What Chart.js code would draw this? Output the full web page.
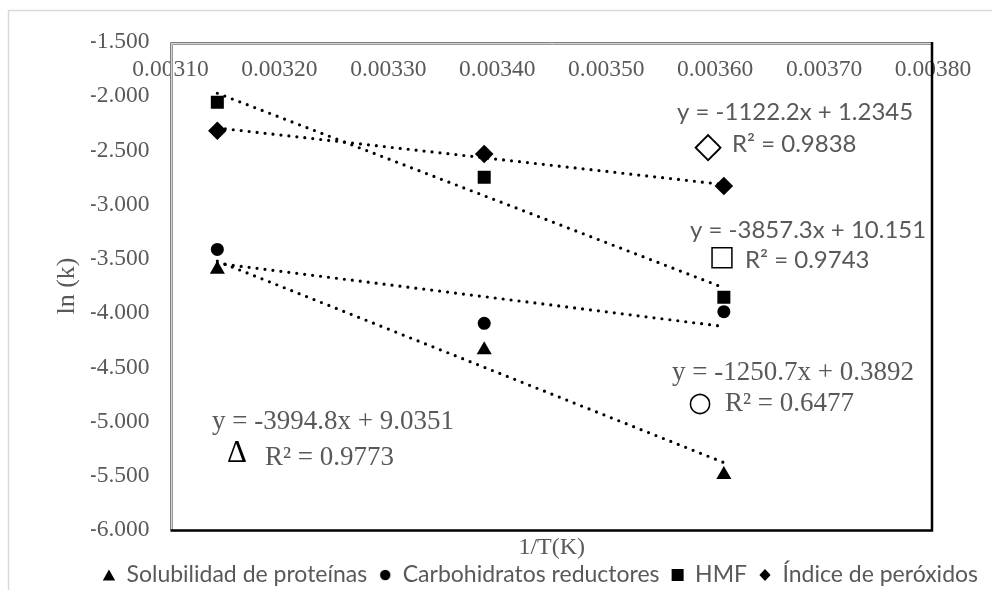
<!DOCTYPE html>
<html>
<head>
<meta charset="utf-8">
<script src="https://cdn.jsdelivr.net/npm/chart.js@4.4.1/dist/chart.umd.min.js"></script>
<style>
  html, body { margin: 0; padding: 0; background: #ffffff; }
  #wrap { width: 992px; height: 590px; position: relative; }
</style>
</head>
<body>
<div id="wrap"><canvas id="chart" width="992" height="590"></canvas></div>
<script>
// Arrhenius plot: ln(k) against 1/T for four quality indices
const seriesNames = ['Solubilidad de proteínas', 'Carbohidratos reductores', 'HMF', 'Índice de peróxidos'];
const invTemp = [0.003143, 0.003388, 0.003608];          // 1/T (K^-1)
const solubilidad = [-3.598, -4.340, -5.490];
const carbohidratos = [-3.413, -4.094, -3.987];
const hmf = [-2.056, -2.748, -3.854];
const peroxidos = [-2.318, -2.533, -2.828];

// linear fits (slope, intercept, R²) in series order
const slopes = [-3994.8, -1250.7, -3857.3, -1122.2];
const intercepts = [9.0351, 0.3892, 10.151, 1.2345];
const rSquared = [0.9773, 0.6477, 0.9743, 0.9838];
const fitSymbols = ['Δ', '○', '□', '◇'];

const xTicks = [0.0031, 0.0032, 0.0033, 0.0034, 0.0035, 0.0036, 0.0037, 0.0038];
const yTicks = [-1.5, -2.0, -2.5, -3.0, -3.5, -4.0, -4.5, -5.0, -5.5, -6.0];

const seriesValues = [solubilidad, carbohidratos, hmf, peroxidos];
const pointStyles = ['triangle', 'circle', 'rect', 'rectRot'];
const pointSizes = [8.7, 6.5, 9.2, 9.3];

// where each fit label sits, in px from the plot area's top-left corner
const fitLabelPlacement = [
  { eq: [41.5, 380], mark: [66.5, 412], r2: [94.5, 416], serif: true },
  { eq: [501.5, 331], mark: [529.5, 362], r2: [554.5, 362], serif: true },
  { eq: [519.5, 188], mark: [551.5, 216], r2: [574.5, 218], serif: false },
  { eq: [506.5, 70.5], mark: [537.5, 106], r2: [561.5, 102], serif: false }
];
const symbolFonts = [
  '31px "Liberation Serif"',
  'bold 27px "DejaVu Sans"',
  'bold 28px "DejaVu Sans"',
  'bold 36px "DejaVu Sans"'
];

const TEXT = '#595959';
const SERIF = '"Liberation Serif", "Times New Roman", serif';
const SANS = 'Lato, "Open Sans", sans-serif';

// small solid markers for the legend
function legendMark(style) {
  const c = document.createElement('canvas');
  c.width = 14; c.height = 14;
  const g = c.getContext('2d');
  g.fillStyle = '#000';
  g.beginPath();
  if (style === 'triangle') { g.moveTo(7, 1.5); g.lineTo(13.2, 12.5); g.lineTo(0.8, 12.5); }
  else if (style === 'circle') { g.arc(7, 7, 5.2, 0, Math.PI * 2); }
  else if (style === 'rect') { g.rect(1, 1, 12, 12); }
  else { g.moveTo(7, 1); g.lineTo(12.6, 7); g.lineTo(7, 13); g.lineTo(1.4, 7); }
  g.closePath();
  g.fill();
  return c;
}
const legendMarks = pointStyles.map(legendMark);

const scatterSets = seriesNames.map((name, i) => ({
  label: name,
  data: invTemp.map((x, j) => ({ x: x, y: seriesValues[i][j] })),
  pointStyle: pointStyles[i],
  pointRadius: pointSizes[i],
  pointHoverRadius: pointSizes[i],
  backgroundColor: '#000000',
  borderColor: '#000000',
  borderWidth: 0,
  showLine: false
}));

const first = invTemp[0];
const last = invTemp[invTemp.length - 1];
const trendSets = seriesNames.map((name, i) => ({
  label: name + ' (ajuste)',
  data: [first, last].map(x => ({ x: x, y: slopes[i] * x + intercepts[i] })),
  showLine: true,
  pointRadius: 0,
  borderColor: '#000000',
  borderWidth: 3.2,
  borderDash: [0, 8],
  borderCapStyle: 'round',
  fill: false
}));

// outer frame and plot border
const framePlugin = {
  id: 'frame',
  beforeDraw(chart) {
    const ctx = chart.ctx;
    ctx.save();
    ctx.fillStyle = '#ffffff';
    ctx.fillRect(0, 0, chart.width, chart.height);
    ctx.strokeStyle = '#d9d9d9';
    ctx.lineWidth = 1.5;
    ctx.beginPath();
    ctx.moveTo(8.5, chart.height + 2);
    ctx.lineTo(8.5, 10.5);
    ctx.lineTo(chart.width + 2, 10.5);
    ctx.stroke();
    ctx.restore();
  },
  beforeDatasetsDraw(chart) {
    const { left, right, top, bottom } = chart.chartArea;
    const ctx = chart.ctx;
    ctx.save();
    // top and left: thin grey double rule
    const rules = [[0.5, '#7f7f7f'], [1.5, '#d4d4d4'], [2.5, '#9a9a9a']];
    rules.forEach(([off, col]) => {
      ctx.strokeStyle = col;
      ctx.lineWidth = 1;
      ctx.beginPath();
      ctx.moveTo(Math.floor(left) + off, bottom);
      ctx.lineTo(Math.floor(left) + off, Math.floor(top) + off);
      ctx.lineTo(right, Math.floor(top) + off);
      ctx.stroke();
    });
    // right and bottom: black rule
    ctx.strokeStyle = '#000000';
    ctx.lineWidth = 2.5;
    ctx.beginPath();
    ctx.moveTo(left, bottom + 0.5);
    ctx.lineTo(right - 1, bottom + 0.5);
    ctx.lineTo(right - 1, top);
    ctx.stroke();
    ctx.restore();
  }
};

// fit equations and R² labels
const fitLabelPlugin = {
  id: 'fitLabels',
  afterDatasetsDraw(chart) {
    const { left, top } = chart.chartArea;
    const ctx = chart.ctx;
    ctx.save();
    ctx.textBaseline = 'middle';
    fitLabelPlacement.forEach((p, i) => {
      const eq = 'y = ' + slopes[i] + 'x + ' + intercepts[i];
      const r2 = 'R² = ' + rSquared[i];
      ctx.textAlign = 'left';
      ctx.fillStyle = TEXT;
      ctx.font = p.serif ? '27px ' + SERIF : '24px ' + SANS;
      ctx.fillText(eq, left + p.eq[0], top + p.eq[1]);
      ctx.fillText(r2, left + p.r2[0], top + p.r2[1]);
      ctx.fillStyle = '#000000';
      ctx.textAlign = 'center';
      ctx.font = symbolFonts[i];
      ctx.fillText(fitSymbols[i], left + p.mark[0], top + p.mark[1]);
    });
    ctx.restore();
  }
};

Chart.defaults.font.family = SERIF;
Chart.defaults.color = TEXT;

new Chart(document.getElementById('chart'), {
  type: 'scatter',
  data: { datasets: scatterSets.concat(trendSets) },
  options: {
    responsive: false,
    devicePixelRatio: 1,
    animation: false,
    layout: { padding: { left: 91, right: 0, top: 42, bottom: -6.5 } },
    plugins: {
      tooltip: { enabled: false },
      legend: {
        position: 'bottom',
        align: 'start',
        labels: {
          usePointStyle: true,
          boxWidth: 12,
          boxHeight: 12,
          padding: 12,
          color: TEXT,
          font: { family: SANS, size: 23 },
          generateLabels(chart) {
            const items = Chart.defaults.plugins.legend.labels.generateLabels(chart);
            items.forEach(it => {
              if (it.datasetIndex < legendMarks.length) it.pointStyle = legendMarks[it.datasetIndex];
            });
            return items;
          },
          filter: item => item.datasetIndex < seriesNames.length
        }
      }
    },
    scales: {
      x: {
        type: 'linear',
        position: { y: yTicks[0] },
        min: xTicks[0],
        max: xTicks[xTicks.length - 1],
        afterBuildTicks(s) { s.ticks = xTicks.map(v => ({ value: v })); },
        grid: { display: false, drawTicks: false },
        border: { display: false },
        ticks: {
          padding: 14,
          autoSkip: false,
          maxRotation: 0,
          color: TEXT,
          font: { family: SERIF, size: 23.5 },
          callback: v => Number(v).toFixed(5)
        }
      },
      xTitle: {
        type: 'linear',
        position: 'bottom',
        min: xTicks[0],
        max: xTicks[xTicks.length - 1],
        grid: { display: false, drawTicks: false },
        border: { display: false },
        ticks: { display: false },
        afterFit(s) { s.height = 21.5; },
        title: {
          display: true,
          text: '1/T(K)',
          color: TEXT,
          font: { family: SERIF, size: 24, lineHeight: 1 },
          padding: { top: 0, bottom: -8.5 }
        }
      },
      y: {
        type: 'linear',
        position: 'left',
        min: yTicks[yTicks.length - 1],
        max: yTicks[0],
        afterBuildTicks(s) { s.ticks = yTicks.map(v => ({ value: v })); },
        afterFit(s) { s.width = 79.5; },
        grid: { display: false, drawTicks: false },
        border: { display: false },
        ticks: {
          padding: 21,
          color: TEXT,
          font: { family: SERIF, size: 23.5 },
          callback: v => Number(v).toFixed(3)
        },
        title: {
          display: true,
          text: 'ln (k)',
          color: TEXT,
          font: { family: SERIF, size: 26, lineHeight: 1.2 },
          padding: { top: -39.6, bottom: 0 }
        }
      },
      yRight: {
        type: 'linear',
        position: 'right',
        grid: { display: false, drawTicks: false },
        border: { display: false },
        ticks: { display: false },
        afterFit(s) { s.width = 59; }
      }
    }
  },
  plugins: [framePlugin, fitLabelPlugin]
});
</script>
</body>
</html>
